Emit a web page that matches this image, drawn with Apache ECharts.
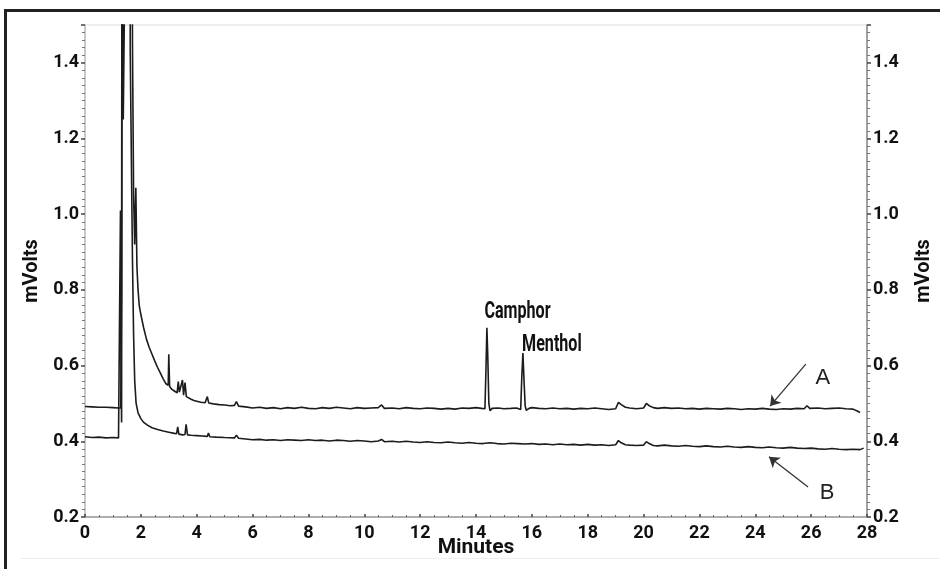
<!DOCTYPE html>
<html>
<head>
<meta charset="utf-8">
<script src="https://cdn.jsdelivr.net/npm/echarts@6/dist/echarts.min.js"></script>
<style>
  html, body { margin: 0; padding: 0; background: #fff; }
  #chart { width: 940px; height: 569px; }
</style>
</head>
<body>
<div id="chart"></div>
<script>
// trace A (sample), [minutes, mVolts]
var traceA = [
  [0, 0.492], [0.25, 0.491], [0.5, 0.490], [0.75, 0.490], [1.0, 0.489], [1.2, 0.488], [1.28, 0.488],
  [1.31, 0.80], [1.33, 2.5], [1.37, 1.25], [1.42, 1.6], [1.48, 2.5], [1.66, 2.5], [1.70, 1.45],
  [1.74, 1.05], [1.78, 0.92], [1.82, 1.07], [1.86, 0.86], [1.90, 0.80], [1.94, 0.76], [2.0, 0.735],
  [2.1, 0.70], [2.2, 0.67], [2.3, 0.648], [2.4, 0.63], [2.5, 0.612], [2.6, 0.595], [2.7, 0.58],
  [2.8, 0.565], [2.9, 0.552], [2.98, 0.548], [3.0, 0.63], [3.03, 0.545], [3.1, 0.538], [3.2, 0.533],
  [3.3, 0.528], [3.34, 0.558], [3.38, 0.53], [3.45, 0.525], [3.49, 0.562], [3.53, 0.522], [3.58, 0.555],
  [3.63, 0.518], [3.7, 0.514], [3.8, 0.511], [3.9, 0.508], [4.0, 0.506], [4.15, 0.503], [4.3, 0.502],
  [4.38, 0.518], [4.43, 0.501], [4.6, 0.499], [4.8, 0.497], [5.0, 0.496], [5.2, 0.494], [5.35, 0.495],
  [5.42, 0.505], [5.5, 0.493], [5.75, 0.491], [6.0, 0.488], [6.25, 0.490], [6.5, 0.487], [6.75, 0.489],
  [7.0, 0.486], [7.25, 0.489], [7.5, 0.487], [7.75, 0.490], [8.0, 0.487], [8.25, 0.486], [8.5, 0.489],
  [8.75, 0.487], [9.0, 0.490], [9.25, 0.488], [9.5, 0.486], [9.75, 0.489], [10.0, 0.487], [10.25, 0.488],
  [10.5, 0.489], [10.62, 0.496], [10.72, 0.487], [11.0, 0.488], [11.25, 0.486], [11.5, 0.489],
  [11.75, 0.487], [12.0, 0.486], [12.25, 0.488], [12.5, 0.487], [12.75, 0.485], [13.0, 0.487],
  [13.25, 0.485], [13.5, 0.488], [13.75, 0.487], [14.0, 0.489], [14.2, 0.487], [14.32, 0.486],
  [14.36, 0.60], [14.39, 0.70], [14.42, 0.63], [14.46, 0.50], [14.50, 0.481], [14.58, 0.487],
  [14.8, 0.488], [15.0, 0.486], [15.25, 0.487], [15.45, 0.488], [15.6, 0.484], [15.64, 0.57],
  [15.68, 0.633], [15.72, 0.56], [15.76, 0.494], [15.80, 0.482], [15.9, 0.487], [16.0, 0.489],
  [16.25, 0.487], [16.5, 0.486], [16.75, 0.488], [17.0, 0.486], [17.25, 0.487], [17.5, 0.485],
  [17.75, 0.487], [18.0, 0.486], [18.25, 0.488], [18.5, 0.486], [18.75, 0.484], [19.0, 0.486],
  [19.1, 0.503], [19.2, 0.497], [19.35, 0.490], [19.5, 0.488], [19.75, 0.486], [20.0, 0.488],
  [20.1, 0.500], [20.2, 0.494], [20.35, 0.489], [20.5, 0.487], [20.75, 0.489], [21.0, 0.487],
  [21.25, 0.488], [21.5, 0.486], [21.75, 0.487], [22.0, 0.485], [22.25, 0.487], [22.5, 0.486],
  [22.75, 0.485], [23.0, 0.487], [23.25, 0.486], [23.5, 0.484], [23.75, 0.486], [24.0, 0.485],
  [24.25, 0.487], [24.5, 0.485], [24.75, 0.484], [25.0, 0.486], [25.25, 0.485], [25.5, 0.487],
  [25.75, 0.486], [25.85, 0.494], [25.95, 0.487], [26.25, 0.488], [26.5, 0.486], [26.75, 0.487],
  [27.0, 0.488], [27.25, 0.486], [27.5, 0.485], [27.65, 0.480], [27.75, 0.476]
];

// trace B (blank)
var traceB = [
  [0, 0.412], [0.25, 0.410], [0.5, 0.411], [0.75, 0.409], [1.0, 0.410], [1.2, 0.409], [1.25, 0.41],
  [1.27, 1.01], [1.29, 0.62], [1.31, 0.45], [1.34, 2.5], [1.6, 2.5], [1.62, 1.43], [1.66, 1.15],
  [1.70, 0.88], [1.74, 0.68], [1.78, 0.56], [1.83, 0.50], [1.9, 0.475], [2.0, 0.46], [2.1, 0.45],
  [2.25, 0.442], [2.4, 0.436], [2.6, 0.431], [2.8, 0.427], [3.0, 0.424], [3.2, 0.421], [3.28, 0.42],
  [3.32, 0.438], [3.36, 0.419], [3.5, 0.417], [3.58, 0.418], [3.62, 0.445], [3.67, 0.417], [3.8, 0.416],
  [4.0, 0.415], [4.2, 0.414], [4.38, 0.413], [4.42, 0.422], [4.47, 0.412], [4.7, 0.411], [5.0, 0.410],
  [5.35, 0.409], [5.42, 0.416], [5.5, 0.408], [5.75, 0.406], [6.0, 0.404], [6.25, 0.405], [6.5, 0.403],
  [6.75, 0.404], [7.0, 0.402], [7.25, 0.404], [7.5, 0.403], [7.75, 0.402], [8.0, 0.404], [8.25, 0.402],
  [8.5, 0.403], [8.75, 0.401], [9.0, 0.403], [9.25, 0.402], [9.5, 0.400], [9.75, 0.402], [10.0, 0.401],
  [10.25, 0.399], [10.5, 0.401], [10.62, 0.405], [10.72, 0.399], [11.0, 0.400], [11.25, 0.398],
  [11.5, 0.400], [11.75, 0.398], [12.0, 0.397], [12.25, 0.399], [12.5, 0.397], [12.75, 0.396],
  [13.0, 0.398], [13.25, 0.396], [13.5, 0.395], [13.75, 0.397], [14.0, 0.395], [14.25, 0.394],
  [14.5, 0.396], [14.75, 0.394], [15.0, 0.393], [15.25, 0.395], [15.5, 0.394], [15.75, 0.393],
  [16.0, 0.394], [16.25, 0.392], [16.5, 0.393], [16.75, 0.391], [17.0, 0.393], [17.25, 0.391],
  [17.5, 0.392], [17.75, 0.390], [18.0, 0.392], [18.25, 0.390], [18.5, 0.391], [18.75, 0.389],
  [19.0, 0.391], [19.1, 0.402], [19.2, 0.396], [19.35, 0.391], [19.5, 0.390], [19.75, 0.389],
  [20.0, 0.390], [20.1, 0.399], [20.2, 0.394], [20.35, 0.389], [20.5, 0.388], [20.75, 0.390],
  [21.0, 0.388], [21.25, 0.387], [21.5, 0.389], [21.75, 0.387], [22.0, 0.386], [22.25, 0.388],
  [22.5, 0.386], [22.75, 0.385], [23.0, 0.387], [23.25, 0.385], [23.5, 0.384], [23.75, 0.386],
  [24.0, 0.384], [24.25, 0.383], [24.5, 0.385], [24.75, 0.383], [25.0, 0.382], [25.25, 0.384],
  [25.5, 0.382], [25.75, 0.381], [26.0, 0.382], [26.25, 0.380], [26.5, 0.379], [26.75, 0.381],
  [27.0, 0.379], [27.25, 0.378], [27.5, 0.379], [27.75, 0.378], [27.82, 0.383], [27.88, 0.382]
];

// peak names and trace letters, placed in data coordinates
var peakLabels = [
  { text: 'Camphor', at: [14.3, 0.742] },
  { text: 'Menthol', at: [15.65, 0.654] }
];
var traceLabels = [
  { text: 'A', at: [26.42, 0.567] },
  { text: 'B', at: [26.57, 0.263] }
];
var arrowA = [[25.81, 0.604], [24.53, 0.493]];
var arrowB = [[25.89, 0.279], [24.49, 0.359]];

var condensed = "'Liberation Sans Narrow', Roboto, sans-serif";

var chartDom = document.getElementById('chart');
var myChart = echarts.init(chartDom);

function yAxisCfg(pos, gap) {
  return {
    type: 'value',
    position: pos,
    min: 0.2,
    max: 1.5,
    interval: 0.2,
    name: 'mVolts',
    nameLocation: 'middle',
    nameGap: gap,
    nameRotate: 90,
    nameTextStyle: { fontFamily: condensed, fontWeight: 'bold', fontSize: 20, color: '#111' },
    axisLine: { show: true, lineStyle: { color: pos === 'left' ? '#bbb' : '#888', width: 1.5 } },
    axisTick: { show: true, length: 4, lineStyle: { color: '#444', width: 1.5 } },
    minorTick: { show: true, splitNumber: 10, length: 3, lineStyle: { color: '#777', width: 1 } },
    splitLine: { show: false },
    axisLabel: {
      showMaxLabel: false,
      margin: 6,
      fontFamily: condensed, fontWeight: 'bold', fontSize: 18, color: '#111',
      formatter: function (v) { return v.toFixed(1); }
    }
  };
}

var option = {
  animation: false,
  backgroundColor: '#fff',
  grid: {
    left: 85, right: 73, top: 25, bottom: 52,
    outerBoundsMode: 'none',
    show: true, borderColor: '#ddd', borderWidth: 1
  },
  xAxis: {
    type: 'value',
    min: 0,
    max: 28,
    interval: 2,
    name: 'Minutes',
    nameLocation: 'middle',
    nameGap: 20,
    nameMoveOverlap: false,
    nameTextStyle: { fontFamily: condensed, fontWeight: 'bold', fontSize: 21, color: '#111' },
    axisLine: { show: true, lineStyle: { color: '#999', width: 1.5 } },
    axisTick: { show: true, inside: true, length: 3, lineStyle: { color: '#444', width: 1.5 } },
    minorTick: { show: true, splitNumber: 4, length: 2, lineStyle: { color: '#666' } },
    splitLine: { show: false },
    axisLabel: { margin: 7, fontFamily: condensed, fontWeight: 'bold', fontSize: 18, color: '#111' }
  },
  yAxis: [yAxisCfg('left', 41), yAxisCfg('right', 47)],
  series: [
    {
      name: 'A',
      type: 'line',
      data: traceA,
      showSymbol: false,
      lineStyle: { color: '#1c1c1c', width: 1.6 },
      markLine: {
        silent: true,
        symbol: ['none', 'arrow'],
        symbolSize: 10,
        lineStyle: { color: '#333', width: 1.3, type: 'solid' },
        label: { show: false },
        data: [[{ coord: arrowA[0] }, { coord: arrowA[1] }]]
      }
    },
    {
      name: 'B',
      type: 'line',
      data: traceB,
      showSymbol: false,
      lineStyle: { color: '#1c1c1c', width: 1.6 },
      markLine: {
        silent: true,
        symbol: ['none', 'arrow'],
        symbolSize: 10,
        lineStyle: { color: '#333', width: 1.3, type: 'solid' },
        label: { show: false },
        data: [[{ coord: arrowB[0] }, { coord: arrowB[1] }]]
      }
    }
  ]
};

myChart.setOption(option);

// page frame plus texts placed through the chart's coordinate conversion
var gfx = [
  { type: 'rect', shape: { x: 4, y: 9, width: 940, height: 3 }, style: { fill: '#222' } },
  { type: 'rect', shape: { x: 4, y: 9, width: 3, height: 560 }, style: { fill: '#222' } },
  { type: 'rect', shape: { x: 20, y: 558, width: 920, height: 1 }, style: { fill: '#eee' } }
];
peakLabels.forEach(function (p) {
  var px = myChart.convertToPixel({ seriesIndex: 0 }, p.at);
  gfx.push({
    type: 'text', x: px[0], y: px[1], scaleX: 0.7,
    style: { text: p.text, fontFamily: condensed, fontWeight: 'bold', fontSize: 23, fill: '#111',
             textAlign: 'left', textVerticalAlign: 'middle' }
  });
});
traceLabels.forEach(function (p) {
  var px = myChart.convertToPixel({ seriesIndex: 0 }, p.at);
  gfx.push({
    type: 'text', x: px[0], y: px[1],
    style: { text: p.text, fontFamily: 'Liberation Sans, Arial, sans-serif', fontSize: 22, fill: '#222',
             textAlign: 'center', textVerticalAlign: 'middle' }
  });
});
myChart.setOption({ graphic: gfx });
</script>
</body>
</html>
